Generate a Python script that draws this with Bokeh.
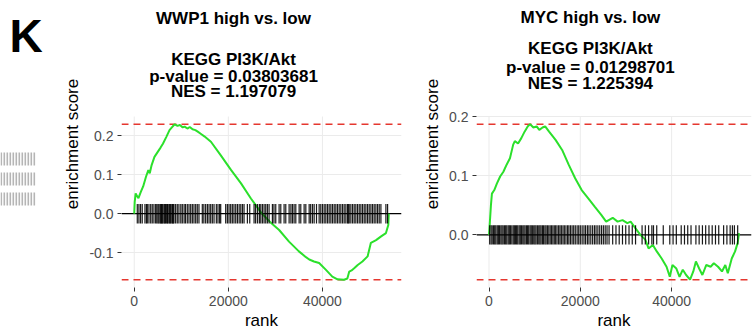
from bokeh.plotting import figure
from bokeh.layouts import row
from bokeh.models import Range1d, FixedTicker, NumeralTickFormatter, Label, Span
from bokeh.embed import file_html
from bokeh.resources import INLINE

FONT = "Liberation Sans"

# ---------------- data ----------------
panel_label = "K"

left_title = "WWP1 high vs. low"
left_sub = ["KEGG PI3K/Akt", "p-value = 0.03803681", "NES = 1.197079"]
right_title = "MYC high vs. low"
right_sub = ["KEGG PI3K/Akt", "p-value = 0.01298701", "NES = 1.225394"]

x_ticks = [0, 20000, 40000]
left_y_ticks = [-0.1, 0.0, 0.1, 0.2]
right_y_ticks = [0.0, 0.1, 0.2]

left_rank = [0, 100, 300, 600, 900, 1400, 1900, 2500, 3000, 3300, 3700,
             4300, 5000, 5600, 6100, 6800, 7500, 8000, 8600, 9200, 9700,
             10300, 10700, 11300, 11800, 12400, 13000, 13500, 14200, 14900, 16300,
             18400, 20600, 22700, 24800, 27000, 29100, 30800, 32900, 35000, 36500,
             37200, 38200, 39300, 40700, 42100, 43200, 44600, 45300, 45700, 46200,
             46800, 47500, 48500, 49600, 50300, 51400, 52400, 53500, 54000, 54100]
left_es = [0.0, 0.030, 0.052, 0.045, 0.040, 0.056, 0.070, 0.095, 0.112, 0.104, 0.125,
           0.146, 0.159, 0.170, 0.180, 0.197, 0.215, 0.222, 0.230, 0.226, 0.228,
           0.222, 0.224, 0.219, 0.223, 0.217, 0.215, 0.211, 0.205, 0.199, 0.185,
           0.150, 0.112, 0.078, 0.039, 0.002, -0.024, -0.042, -0.072, -0.097, -0.112,
           -0.118, -0.123, -0.127, -0.144, -0.162, -0.169, -0.170, -0.167, -0.149, -0.146,
           -0.140, -0.132, -0.123, -0.110, -0.075, -0.068, -0.059, -0.050, -0.029, 0.0]
left_hits = [650, 1000, 1350, 1700, 2280, 2600, 2780, 3130, 3500, 3830, 4190, 4550, 4800,
             5050, 5250, 5500, 5650, 5800, 5950, 6100, 6350, 6500, 6650, 6900, 7050, 7200,
             7450, 7600, 7750, 8000, 8150, 8300, 8450, 8800, 9150, 9500, 9900, 10220,
             10600, 10900, 11280, 11640, 12000, 12350, 12700, 13060, 13400, 13760, 14470,
             14800, 15180, 15550, 15900, 16250, 16600, 16960, 17450, 17800, 18150, 18380,
             19440, 19800, 20150, 20500, 20850, 21200, 21570, 21930, 22300, 22650, 23000,
             23340, 24050, 24550, 25470, 25800, 26200, 26600, 26900, 27250, 27600, 27950,
             28300, 28660, 29370, 29700, 30080, 30790, 31150, 31850, 32210, 32920, 33300,
             33630, 33980, 34340, 35050, 35400, 36110, 36470, 37180, 37500, 37880, 38240,
             38740, 39300, 39650, 40010, 40370, 40720, 41080, 41430, 41790, 42140, 42500,
             42850, 43200, 43560, 43910, 44270, 44620, 44980, 45330, 45500, 45690, 46040,
             46400, 46750, 47100, 47460, 47820, 48170, 48520, 48880, 49230, 49590, 49940,
             50300, 50650, 51000, 51360, 51720, 52070, 52430, 53490, 53850]

right_rank = [0, 150, 430, 640, 1160, 1720, 2440, 3150, 3860, 4590,
              5300, 5660, 6370, 7080, 7800, 8510, 9000, 9730, 10440, 11020,
              11730, 12300, 13160, 14580, 16020, 17450, 18870, 20300, 21740, 23150,
              24590, 25660, 27100, 28170, 29240, 30310, 31020, 32100, 33170, 34240,
              34950, 35890, 36750, 37820, 38890, 39600, 40180, 41040, 41740, 42450,
              43180, 44040, 44750, 45320, 46030, 46740, 47600, 48540, 49250, 50170,
              51030, 51760, 52310, 53170, 53900, 54460, 54760]
right_es = [0.0, 0.017, 0.051, 0.070, 0.076, 0.087, 0.099, 0.107, 0.119, 0.130,
            0.153, 0.159, 0.155, 0.164, 0.175, 0.184, 0.1875, 0.182, 0.184, 0.178,
            0.182, 0.184, 0.175, 0.161, 0.144, 0.119, 0.096, 0.076, 0.062, 0.048,
            0.034, 0.0225, 0.029, 0.0225, 0.025, 0.020, 0.0225, 0.011, 0.0, -0.008,
            -0.023, -0.017, -0.028, -0.040, -0.054, -0.071, -0.051, -0.057, -0.071, -0.059,
            -0.068, -0.076, -0.062, -0.045, -0.057, -0.068, -0.051, -0.054, -0.048, -0.054,
            -0.062, -0.051, -0.065, -0.040, -0.028, -0.014, 0.003]
right_hits = [150, 450, 700, 1000, 1250, 1500, 1800, 2050, 2300, 2600, 2850, 3100, 3400,
              3650, 3900, 4200, 4450, 4700, 5000, 5300, 5550, 5800, 6050, 6300, 6600, 6850,
              7100, 7400, 7650, 7900, 8200, 8450, 8700, 9000, 9250, 9500, 9800, 10050,
              10300, 10600, 10900, 11150, 11400, 11700, 11950, 12250, 12500, 12800, 13100,
              13400, 13700, 14000, 14300, 14600, 14900, 15250, 15550, 15850, 16200, 16500,
              16850, 17200, 17500, 17850, 18200, 18550, 18900, 19300, 19650, 20000, 20400,
              20800, 21150, 21550, 21900, 22300, 22700, 23100, 23450, 23850, 24250, 24650,
              25050, 25450, 25850, 26300, 27090, 27810, 28520, 29240, 29950, 30670, 31380,
              32100, 33530, 34240, 34960, 35670, 36030, 36740, 38170, 39600, 40320, 41030,
              42100, 42820, 43530, 44250, 45320, 46030, 46750, 47460, 48180, 48890, 49610,
              50320, 51390, 52110, 52820, 53320, 53750, 54470]

# cropped neighbouring-figure fragment at the far left (decoration)
deco_stripe_x = [0, 3, 6, 9, 12, 15, 18, 21, 24, 27, 30, 33]
deco_rows = [(152, 165), (172, 185), (192, 205)]

# ---------------- layout geometry (pixels) ----------------
H = 333
PANEL_TOP = 116          # canvas row where the data panel starts
BOTTOM = 46              # bottom border (axis)
FRAME_BOTTOM = H - BOTTOM
PANEL_H = FRAME_BOTTOM - PANEL_TOP
BASE_FIX = 0.38          # label baseline correction (fraction of font size)


def style_axes(p, yticks, ybounds):
    p.xaxis.ticker = FixedTicker(ticks=x_ticks)
    p.yaxis.ticker = FixedTicker(ticks=yticks)
    p.xaxis.formatter = NumeralTickFormatter(format="0")
    p.yaxis.formatter = NumeralTickFormatter(format="0.0")
    p.xaxis.axis_label = "rank"
    p.yaxis.axis_label = "enrichment score"
    p.yaxis.bounds = ybounds
    for ax in p.axis:
        ax.axis_line_color = None
        ax.major_tick_line_color = "#333333"
        ax.major_tick_out = 4
        ax.major_tick_in = 0
        ax.minor_tick_line_color = None
        ax.major_label_text_font = FONT
        ax.major_label_text_font_size = "14px"
        ax.major_label_text_color = "#4D4D4D"
        ax.major_label_standoff = 4
        ax.axis_label_text_font = FONT
        ax.axis_label_text_font_size = "17px"
        ax.axis_label_text_font_style = "normal"
        ax.axis_label_text_color = "#000000"
    p.yaxis.axis_label_standoff = 4
    p.xaxis.axis_label_standoff = 2
    p.xgrid.visible = False
    p.ygrid.grid_line_color = "#EBEBEB"
    p.ygrid.grid_line_width = 1
    p.outline_line_color = None
    p.background_fill_color = "white"
    p.border_fill_color = "white"


def make_panel(width, x_off, bl, br, rank, es, hits, yticks, title, sub,
               title_base, sub_bases, center_x):
    lo, hi = min(es), max(es)
    diff = (hi - lo) / 8
    xs = rank + hits
    xmin, xmax = min(xs), max(xs)
    ymin, ymax = min(lo, -diff / 2), max(hi, diff / 2)
    xpad = 0.05 * (xmax - xmin)
    ypad = 0.05 * (ymax - ymin)
    x0, x1 = xmin - xpad, xmax + xpad
    y0, y1 = ymin - ypad, ymax + ypad
    ppu = PANEL_H / (y1 - y0)                 # pixels per data unit (y)
    ytop = y1 + PANEL_TOP / ppu               # frame extends up to the canvas top
    frame_w = width - bl - br
    frame_left = x_off + bl

    def to_data(gx, gy):
        return (x0 + (gx - frame_left) / frame_w * (x1 - x0),
                y1 + (PANEL_TOP - gy) / ppu)

    p = figure(width=width, height=H, title=None,
               x_range=Range1d(x0, x1), y_range=Range1d(y0, ytop),
               output_backend="svg", toolbar_location=None,
               min_border_left=bl, min_border_right=br,
               min_border_top=0, min_border_bottom=BOTTOM)
    style_axes(p, yticks, (y0, y1))

    # vertical grid lines limited to the data panel
    vg = p.segment(x0=x_ticks, y0=[y0] * len(x_ticks), x1=x_ticks, y1=[y1] * len(x_ticks),
                   line_color="#EBEBEB", line_width=1)
    vg.level = "underlay"

    for loc in (hi, lo):
        p.add_layout(Span(location=loc, dimension="width", line_color="#E5372F",
                          line_dash="7 5", line_width=1.4, level="underlay"))
    p.add_layout(Span(location=0, dimension="width", line_color="black",
                      line_width=1.4, level="underlay"))

    p.line(rank, es, line_color="#2BE02B", line_width=2)
    p.segment(x0=hits, y0=[-diff / 2] * len(hits), x1=hits, y1=[diff / 2] * len(hits),
              line_color="black", line_width=1.2, line_alpha=0.9)

    for t, b in zip([title] + sub, [title_base] + sub_bases):
        tx, ty = to_data(center_x, b - BASE_FIX * 17)
        p.add_layout(Label(x=tx, y=ty, text=t, text_font=FONT, text_font_size="17px",
                           text_font_style="bold", text_align="center",
                           text_baseline="alphabetic", text_color="black"))
    return p


# ---------------- decoration strip with the panel letter ----------------
strip = figure(width=50, height=H, title=None, x_range=Range1d(0, 50),
               y_range=Range1d(FRAME_BOTTOM, 0),
               output_backend="svg", toolbar_location=None,
               min_border_left=0, min_border_right=0,
               min_border_top=0, min_border_bottom=BOTTOM)
strip.axis.visible = False
strip.grid.visible = False
strip.outline_line_color = None
lefts, rights, tops, bottoms = [], [], [], []
for (r0, r1) in deco_rows:
    for sx in deco_stripe_x:
        lefts.append(sx)
        rights.append(sx + 1.6)
        tops.append(r0)
        bottoms.append(r1)
strip.quad(left=lefts, right=rights, top=tops, bottom=bottoms,
           fill_color="#B5B5B5", line_color=None)
strip.add_layout(Label(x=9, y=53 - BASE_FIX * 46, text=panel_label, text_font=FONT,
                       text_font_size="46px", text_font_style="bold",
                       text_align="left", text_baseline="alphabetic",
                       text_color="black"))

# left panel: canvas x 50..420 (frame 121..401); right panel: canvas x 420..753 (frame 471..751)
p_left = make_panel(370, 50, 71, 19, left_rank, left_es, left_hits, left_y_ticks,
                    left_title, left_sub, 24.5, [65, 82, 97.5], 233)
p_right = make_panel(333, 420, 51, 2, right_rank, right_es, right_hits, right_y_ticks,
                     right_title, right_sub, 23.5, [54.5, 73, 89.5], 587)

layout = row(strip, p_left, p_right, spacing=0)

open("out.html", "w").write(file_html(layout, INLINE))
